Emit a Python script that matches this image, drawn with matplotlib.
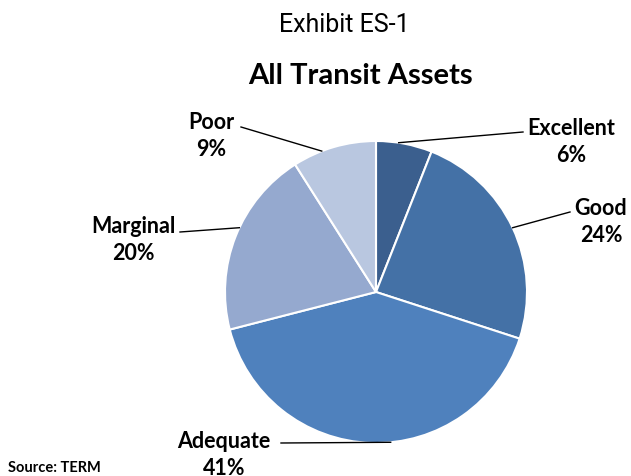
import matplotlib
matplotlib.use("Agg")
import matplotlib.pyplot as plt
import numpy as np

categories = ["Excellent", "Good", "Adequate", "Marginal", "Poor"]
values = [6, 24, 41, 20, 9]
colors = ["#3B5F8E", "#4471A6", "#4F81BD", "#95A9CF", "#B9C7E0"]

W, H = 631, 477
fig = plt.figure(figsize=(W / 100, H / 100), dpi=100)
ax = fig.add_axes([0, 0, 1, 1])

cx, cy, R = 376, H - 293, 151
wedges, _ = ax.pie(values, colors=colors, startangle=90, counterclock=False,
                   center=(cx, cy), radius=R, frame=True,
                   wedgeprops=dict(edgecolor="white", linewidth=1.5))
ax.set_xlim(0, W)
ax.set_ylim(0, H)
ax.set_aspect("equal")
ax.axis("off")

lab_font = ["Lato", "DejaVu Sans"]
label_pos = {
    "Excellent": (571, 142),
    "Good": (601, 222),
    "Adequate": (224, 455),
    "Marginal": (133, 240),
    "Poor": (211, 136),
}
line_end = {
    "Excellent": (523, 133),
    "Good": (570, 213),
    "Adequate": (281, 444),
    "Marginal": (180, 233),
    "Poor": (241, 128),
}
line_frac = {"Excellent": 0.4, "Good": 0.5, "Adequate": 0.45, "Marginal": 0.55, "Poor": 0.35}

total = sum(values)
start = 90.0
for cat, val, w in zip(categories, values, wedges):
    ang = start - 360.0 * val / total
    f = line_frac[cat]
    a = np.deg2rad(start + (ang - start) * f)
    start = ang
    px, py = cx + R * np.cos(a), cy + R * np.sin(a)
    ex, ey = line_end[cat]
    ax.plot([px, ex], [py, H - ey], color="black", lw=1.0)
    tx, ty = label_pos[cat]
    ax.text(tx, H - ty, f"{cat}\n{val}%", ha="center", va="center",
            fontsize=15.5, fontweight="bold", family=lab_font, linespacing=1.3)

fig.text(344 / W, 1 - 25 / H, "Exhibit ES-1", ha="center", va="center",
         fontsize=18, family=["Liberation Sans Narrow", "Roboto", "DejaVu Sans"])
fig.text(360 / W, 1 - 76 / H, "All Transit Assets", ha="center", va="center",
         fontsize=21, fontweight="bold", family=lab_font)
fig.text(8 / W, 1 - 468 / H, "Source: TERM", ha="left", va="center",
         fontsize=10.5, fontweight="bold", family=lab_font)

fig.savefig("out.png", dpi=100)
